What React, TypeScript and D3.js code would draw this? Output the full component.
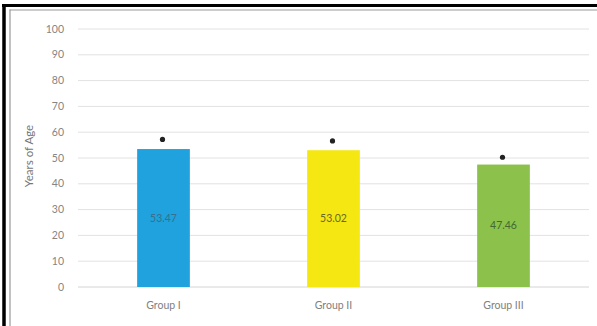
import React from "react";
import * as d3 from "d3";

const categories = ["Group I", "Group II", "Group III"];
const values = [53.47, 53.02, 47.46];
const dotValues = [57.2, 56.6, 50.3];
const labels = ["53.47", "53.02", "47.46"];
const colors = ["#1fa2de", "#f4e712", "#8cc24c"];
const labelColors = ["#3a6f8f", "#6b6826", "#44692c"];
const yTicks = [0, 10, 20, 30, 40, 50, 60, 70, 80, 90, 100];

export default function App() {
  const W = 597, H = 326;
  const x = d3.scaleBand<string>().domain(categories).range([78.5, 588.5]).paddingInner(0.69).paddingOuter(0.345);
  const y = d3.scaleLinear().domain([0, 100]).range([287, 29]);
  const font = "Lato, 'Open Sans', sans-serif";
  return (
    <svg width={W} height={H} style={{ position: "absolute", left: 0, top: 0, background: "#fff" }}>
      <rect x={0} y={0} width={W} height={H} fill="#fff" />
      <line x1={2} x2={W} y1={5.5} y2={5.5} stroke="#000" strokeWidth={3} />
      <line x1={4} x2={4} y1={4} y2={H} stroke="#000" strokeWidth={3.5} />
      <line x1={9.5} x2={W} y1={10} y2={10} stroke="#9a9a9a" strokeWidth={1.2} />
      <line x1={10} x2={10} y1={9.5} y2={H} stroke="#9a9a9a" strokeWidth={1.2} />
      {yTicks.map((t) => (
        <g key={t}>
          <line x1={78} x2={589} y1={y(t)} y2={y(t)} stroke={t === 0 ? "#d4d4d4" : "#e2e2e2"} strokeWidth={1} />
          <text x={64} y={y(t)} dy="0.35em" textAnchor="end" fontSize={10.5} fill="#858585" fontFamily={font}>{t}</text>
        </g>
      ))}
      <text transform={`translate(29,156) rotate(-90)`} textAnchor="middle" dy="0.35em" fontSize={11.5} fill="#777" fontFamily={font}>Years of Age</text>
      {categories.map((c, i) => {
        const bx = x(c)!;
        const bw = x.bandwidth();
        const cx = bx + bw / 2;
        return (
          <g key={c}>
            <rect x={bx} y={y(values[i])} width={bw} height={y(0) - y(values[i])} fill={colors[i]} />
            <circle cx={cx - 1} cy={y(dotValues[i])} r={2.6} fill="#222" />
            <text x={cx} y={(y(values[i]) + y(0)) / 2} dy="0.35em" textAnchor="middle" fontSize={10.5} fill={labelColors[i]} fontFamily={font}>{labels[i]}</text>
            <text x={cx} y={305} dy="0.35em" textAnchor="middle" fontSize={10.5} fill="#808080" fontFamily={font}>{c}</text>
          </g>
        );
      })}
    </svg>
  );
}
